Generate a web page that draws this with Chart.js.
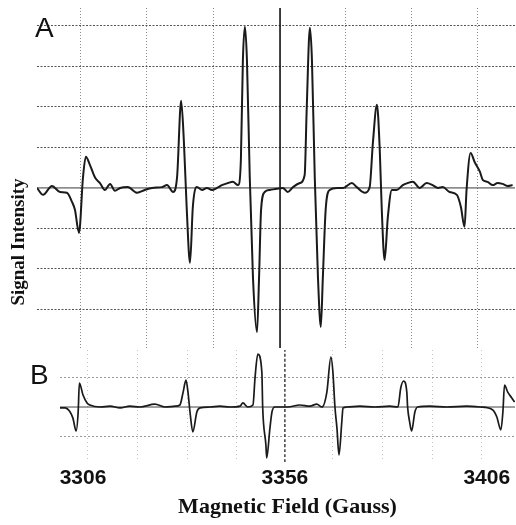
<!DOCTYPE html>
<html lang="en">
<head>
  <meta charset="UTF-8" />
  <title>EPR Spectrum</title>
  <script src="https://cdn.jsdelivr.net/npm/chart.js"></script>
  <style>
    body {
      margin: 0;
      background: #fff;
    }
    .page {
      position: relative;
      width: 516px;
      height: 525px;
      overflow: hidden;
    }
    .page canvas {
      position: absolute;
    }
    #chartA { left: 37px; top: 8px; }
    #chartB { left: 0; top: 348px; }
    .panel-label {
      position: absolute;
      font-family: 'Liberation Sans', Arial, sans-serif;
      font-size: 28px;
      line-height: 1;
      color: #111;
    }
    .y-title {
      position: absolute;
      left: 18px;
      top: 242px;
      transform: translate(-50%, -50%) rotate(-90deg);
      font-family: 'Liberation Serif', 'Times New Roman', serif;
      font-weight: bold;
      font-size: 19px;
      white-space: nowrap;
      color: #111;
    }
  </style>
</head>
<body>
  <div class="page">
    <canvas id="chartA" width="478" height="340"></canvas>
    <canvas id="chartB" width="516" height="177"></canvas>
    <div class="panel-label" style="left:35px; top:14px;">A</div>
    <div class="panel-label" style="left:30px; top:361px;">B</div>
    <div class="y-title">Signal Intensity</div>
  </div>

  <script>
    // Spectrum A (field in Gauss, signal in chart-paper divisions)
    const fieldA = [
      3294.6, 3296.1, 3298.3, 3300.3, 3302.0, 3303.3, 3304.0, 3305.0, 3306.0, 3306.7,
      3307.7, 3309.0, 3310.2, 3311.4, 3312.7, 3313.9, 3315.2, 3317.1, 3319.4, 3321.3,
      3323.1, 3325.6, 3326.8, 3328.3, 3329.3, 3330.3, 3331.0, 3331.7, 3332.5, 3333.2,
      3334.2, 3335.5, 3336.7, 3337.9, 3339.2, 3340.4, 3341.9, 3343.1, 3344.4, 3345.1,
      3345.6, 3346.1, 3346.6, 3347.3, 3348.1, 3349.1, 3349.6, 3350.1, 3351.0, 3352.3,
      3354.0, 3355.5, 3356.7, 3358.0, 3359.7, 3360.9, 3361.4, 3362.2, 3362.7, 3363.4,
      3364.2, 3364.9, 3365.4, 3366.1, 3367.1, 3368.9, 3370.4, 3372.6, 3373.8, 3375.8,
      3377.0, 3377.8, 3378.8, 3379.5, 3380.0, 3380.7, 3381.5, 3382.5, 3383.7, 3385.2,
      3386.4, 3387.7, 3389.4, 3391.1, 3392.6, 3393.9, 3395.1, 3396.8, 3398.6, 3399.6,
      3400.5, 3401.0, 3402.0, 3403.0, 3404.3, 3405.0, 3406.2, 3407.5, 3408.7, 3409.9,
      3411.2, 3412.4
    ];
    const signalA = [
      0, -0.17, 0.05, -0.10, -0.12, -0.35, -0.54, -1.11, 0.27, 0.77,
      0.57, 0.25, 0.12, -0.05, 0.10, -0.07, 0, 0.02, -0.12, -0.05,
      0, 0.02, 0.07, -0.10, 0.27, 2.15, 1.11, -0.54, -1.85, -0.47,
      0.02, -0.05, 0, -0.05, 0, 0.07, 0.12, 0.15, 0.07, 0.69,
      3.16, 3.98, 3.16, 0.27, -2.22, -3.56, -2.22, -0.54, -0.10, -0.05,
      -0.02, 0, -0.10, 0.02, 0.12, 0.32, 1.93, 3.95, 3.16, 0.27,
      -2.22, -3.43, -2.22, -0.54, -0.05, 0, 0, 0.12, 0.02, -0.12,
      0.02, 1.11, 2.05, 0.94, -0.54, -1.78, -0.72, -0.05, -0.05, 0.07,
      0.12, 0.15, 0, 0.12, 0.07, 0, 0.02, -0.10, -0.17, -0.47,
      -0.96, -0.05, 0.86, 0.64, 0.40, 0.20, 0.15, 0.07, 0.12, 0.10,
      0.05, 0.07
    ];

    // Spectrum B
    const fieldB = [
      3300.3, 3301.5, 3302.8, 3303.5, 3304.3, 3304.8, 3305.1, 3306.0, 3307.0, 3307.7,
      3310.2, 3312.7, 3315.2, 3317.6, 3320.1, 3323.8, 3326.3, 3328.8, 3330.0, 3330.8,
      3331.5, 3332.0, 3332.5, 3333.2, 3334.2, 3335.0, 3337.4, 3339.9, 3342.4, 3344.9,
      3345.6, 3346.8, 3348.1, 3348.6, 3349.3, 3350.3, 3350.5, 3351.3, 3351.5, 3352.3,
      3352.8, 3353.5, 3356.7, 3359.7, 3362.2, 3363.9, 3365.2, 3366.4, 3367.4, 3367.9,
      3368.4, 3368.9, 3369.4, 3370.1, 3370.4, 3371.3, 3374.6, 3378.3, 3382.0, 3384.0,
      3384.7, 3385.4, 3386.2, 3386.4, 3386.9, 3387.4, 3388.2, 3388.9, 3391.9, 3396.1,
      3401.0, 3404.3, 3407.5, 3408.5, 3409.5, 3410.0, 3410.4, 3411.2, 3412.2, 3412.9
    ];
    const signalB = [
      -0.03, -0.03, -0.17, -0.38, -0.82, -0.17, 0.82, 0.41, 0.14, 0.07,
      0, 0.03, -0.03, 0.03, 0, 0.10, 0, 0.03, 0.07, 0.51,
      0.92, 0.51, -0.17, -0.85, -0.17, -0.03, 0, 0.03, 0, 0.03,
      0.14, 0, 0.07, 0.99, 1.81, 1.19, 0, -1.30, -1.74, -0.72,
      -0.17, 0, 0, 0.07, 0.03, 0.10, 0, 0.51, 1.71, 1.19,
      0, -0.72, -1.64, -0.51, -0.03, 0, 0.03, 0, 0.03, 0,
      0.65, 0.89, 0.51, 0, -0.51, -0.82, -0.17, 0, 0.03, 0,
      0.03, 0, -0.10, -0.34, -0.78, -0.17, 0.75, 0.51, 0.31, 0.17
    ];

    // Axis ranges and chart-paper grid
    const fieldRangeA = [3294.6, 3413.0];
    const fieldRangeB = [3300.3, 3413.0];
    const signalRangeA = [-3.95, 4.44];
    const signalRangeB = [-1.88, 1.95];
    const paperFieldsA = [3305.3, 3321.8, 3338.4, 3371.1, 3387.4, 3403.8];
    const paperSignalsA = [-3, -2, -1, 1, 2, 3, 4];
    const paperFieldsB = [3307.2, 3319.6, 3332.0, 3344.1, 3367.9, 3380.2, 3392.6, 3404.8];
    const paperSignalsB = [-1, 1];
    const markerFieldA = 3354.8;
    const markerFieldB = 3356.0;
    const fieldLabels = [3306, 3356, 3406];

    const toPoints = (xs, ys) => xs.map((x, i) => ({ x, y: ys[i] }));
    const setTicks = values => scale => { scale.ticks = values.map(v => ({ value: v })); };

    function lineSet(points, color, width, dash) {
      return {
        data: points,
        borderColor: color,
        borderWidth: width,
        borderDash: dash || [],
        pointRadius: 0,
        fill: false,
        cubicInterpolationMode: 'monotone'
      };
    }

    function paperAxis(min, max, values, color, dash, horizontal) {
      return {
        type: 'linear',
        min, max,
        position: horizontal ? 'top' : 'left',
        afterBuildTicks: setTicks(values),
        afterFit: s => { if (horizontal) s.height = 0; else s.width = 0; },
        ticks: { display: false },
        grid: { color, lineWidth: 1, drawTicks: false },
        border: { display: false, dash }
      };
    }

    const baseOptions = {
      responsive: false,
      animation: false,
      events: [],
      plugins: { legend: { display: false }, tooltip: { enabled: false } }
    };

    // Panel A
    new Chart(document.getElementById('chartA'), {
      type: 'line',
      data: {
        datasets: [
          lineSet(toPoints(fieldA, signalA), '#1a1a1a', 2),
          lineSet([{ x: fieldRangeA[0], y: 0 }, { x: fieldRangeA[1], y: 0 }], '#3a3a3a', 1),
          lineSet([{ x: markerFieldA, y: signalRangeA[0] }, { x: markerFieldA, y: signalRangeA[1] }], '#111', 1.6)
        ]
      },
      options: {
        ...baseOptions,
        layout: { padding: 0 },
        scales: {
          x: paperAxis(fieldRangeA[0], fieldRangeA[1], paperFieldsA, '#8c8c8c', [1, 2], true),
          y: paperAxis(signalRangeA[0], signalRangeA[1], paperSignalsA, '#555', [2, 1.5], false)
        }
      }
    });

    // Panel B with the field axis
    new Chart(document.getElementById('chartB'), {
      type: 'line',
      data: {
        datasets: [
          lineSet(toPoints(fieldB, signalB), '#1a1a1a', 1.7),
          lineSet([{ x: fieldRangeB[0], y: 0 }, { x: fieldRangeB[1], y: 0 }], '#444', 1),
          lineSet([{ x: markerFieldB, y: signalRangeB[0] }, { x: markerFieldB, y: signalRangeB[1] }], '#333', 1.4, [3, 2])
        ]
      },
      options: {
        ...baseOptions,
        layout: { padding: { left: 60, right: 1, top: 2, bottom: 0 } },
        scales: {
          x: {
            type: 'linear',
            min: fieldRangeB[0],
            max: fieldRangeB[1],
            position: 'bottom',
            afterBuildTicks: setTicks(fieldLabels),
            afterFit: s => { s.height = 63; },
            grid: { display: false, drawTicks: false },
            border: { display: false },
            ticks: {
              color: '#111',
              padding: 4,
              font: { family: "'Liberation Sans', Arial, sans-serif", size: 21, weight: 'bold' },
              callback: v => String(v)
            },
            title: {
              display: true,
              text: 'Magnetic Field (Gauss)',
              color: '#111',
              padding: { top: 0, bottom: 4 },
              font: { family: "'Liberation Serif', 'Times New Roman', serif", size: 22, weight: 'bold' }
            }
          },
          xPaper: paperAxis(fieldRangeB[0], fieldRangeB[1], paperFieldsB, '#c4c4c4', [1, 3], true),
          y: paperAxis(signalRangeB[0], signalRangeB[1], paperSignalsB, '#9a9a9a', [2, 2], false)
        }
      }
    });
  </script>
</body>
</html>
